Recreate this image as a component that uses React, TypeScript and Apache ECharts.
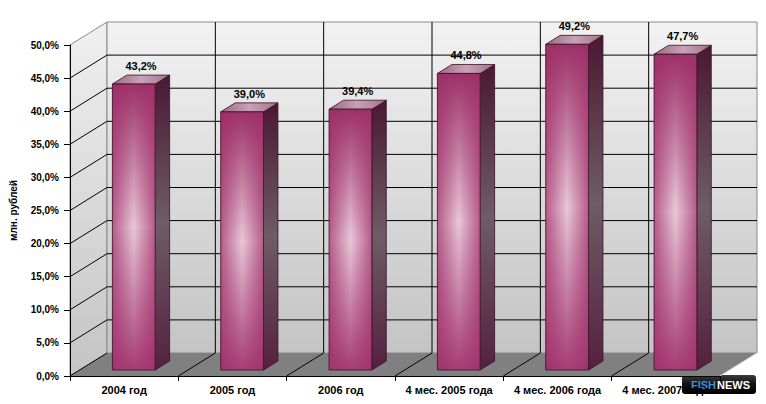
import React, { useEffect, useRef } from "react";
import * as echarts from "echarts";

const categories = [
  "2004 год",
  "2005 год",
  "2006 год",
  "4 мес. 2005 года",
  "4 мес. 2006 года",
  "4 мес. 2007 года",
];
const values = [43.2, 39.0, 39.4, 44.8, 49.2, 47.7];
const yTicks = [0, 5, 10, 15, 20, 25, 30, 35, 40, 45, 50];
const yAxisTitle = "млн. рублей";

const DX = 37;
const DY = -23;
const F1 = 0.26;
const F2 = 0.65;
const BAR_W = 0.395;
const FONT = "'Liberation Sans', Arial, sans-serif";

const fmt = (v: number) => v.toFixed(1).replace(".", ",") + "%";

export default function App() {
  const ref = useRef<HTMLDivElement>(null);
  useEffect(() => {
    if (!ref.current) return;
    const chart = echarts.init(ref.current, undefined, { renderer: "svg" });
    const yMin = yTicks[0];
    const yMax = yTicks[yTicks.length - 1];
    const n = categories.length;

    const sceneRender = (params: any, api: any) => {
      const p0 = api.coord([0, yMin]);
      const bw = api.size([1, 0])[0];
      const left = p0[0] - bw / 2;
      const right = left + bw * n;
      const yBot = p0[1];
      const yTop = api.coord([0, yMax])[1];
      const children: any[] = [];
      children.push({
        type: "polygon",
        shape: { points: [[left, yBot], [left + DX, yBot + DY], [left + DX, yTop + DY], [left, yTop]] },
        style: {
          fill: new echarts.graphic.LinearGradient(0, 0, 0, 1, [
            { offset: 0, color: "#f0f0f0" },
            { offset: 1, color: "#c4c4c4" },
          ]),
          stroke: "#8a8a8a",
          lineWidth: 1,
        },
      });
      children.push({
        type: "rect",
        shape: { x: left + DX, y: yTop + DY, width: right - left, height: yBot - yTop },
        style: {
          fill: new echarts.graphic.LinearGradient(0, 0, 0, 1, [
            { offset: 0, color: "#f2f2f2" },
            { offset: 1, color: "#c4c4c4" },
          ]),
          stroke: "#8a8a8a",
          lineWidth: 1,
        },
      });
      children.push({
        type: "polygon",
        shape: { points: [[left, yBot], [right, yBot], [right + DX, yBot + DY], [left + DX, yBot + DY]] },
        style: { fill: "#808080", stroke: "none" },
      });
      yTicks.forEach((t) => {
        if (t === yMin || t === yMax) return;
        const y = api.coord([0, t])[1];
        children.push({
          type: "line",
          shape: { x1: left, y1: y, x2: left + DX, y2: y + DY },
          style: { stroke: "#000", lineWidth: 1 },
        });
        children.push({
          type: "line",
          shape: { x1: left + DX, y1: y + DY, x2: right + DX, y2: y + DY },
          style: { stroke: "#000", lineWidth: 1 },
        });
      });
      for (let k = 1; k < n; k++) {
        const x = left + k * bw;
        children.push({
          type: "line",
          shape: { x1: x + DX, y1: yTop + DY, x2: x + DX, y2: yBot + DY },
          style: { stroke: "#000", lineWidth: 1 },
        });
        children.push({
          type: "line",
          shape: { x1: x, y1: yBot, x2: x + DX, y2: yBot + DY },
          style: { stroke: "#000", lineWidth: 1 },
        });
      }
      children.push({
        type: "line",
        shape: { x1: left, y1: yBot, x2: left + DX, y2: yBot + DY },
        style: { stroke: "#000", lineWidth: 1 },
      });
      children.push({
        type: "line",
        shape: { x1: right, y1: yBot, x2: right + DX, y2: yBot + DY },
        style: { stroke: "#e0e0e0", lineWidth: 1 },
      });
      return { type: "group", children };
    };

    const barRender = (params: any, api: any) => {
      const i = api.value(0);
      const v = api.value(1);
      const base = api.coord([i, yMin]);
      const top = api.coord([i, v]);
      const bw = api.size([1, 0])[0];
      const w = bw * BAR_W;
      const x0 = base[0] - w / 2 + DX * F1;
      const y0 = top[1] + DY * F1;
      const h = base[1] - top[1];
      const dx = DX * (F2 - F1);
      const dy = DY * (F2 - F1);
      const edge = "#3a0f26";
      return {
        type: "group",
        children: [
          {
            type: "polygon",
            shape: { points: [[x0 + w, y0], [x0 + w + dx, y0 + dy], [x0 + w + dx, y0 + h + dy], [x0 + w, y0 + h]] },
            style: {
              fill: new echarts.graphic.LinearGradient(0, 0, 0, 1, [
                { offset: 0, color: "#4a1832" },
                { offset: 0.5, color: "#6e5c66" },
                { offset: 1, color: "#55203f" },
              ]),
              stroke: edge,
              lineWidth: 0.8,
            },
          },
          {
            type: "polygon",
            shape: { points: [[x0, y0], [x0 + w, y0], [x0 + w + dx, y0 + dy], [x0 + dx, y0 + dy]] },
            style: {
              fill: new echarts.graphic.LinearGradient(0, 0, 1, 0, [
                { offset: 0, color: "#9a6a80" },
                { offset: 0.5, color: "#c8a2b6" },
                { offset: 1, color: "#a07488" },
              ]),
              stroke: edge,
              lineWidth: 0.8,
            },
          },
          {
            type: "rect",
            shape: { x: x0, y: y0, width: w, height: h },
            style: {
              fill: new echarts.graphic.LinearGradient(0, 0, 0, 1, [
                { offset: 0, color: "#9c3268" },
                { offset: 0.5, color: "#e8c8d8" },
                { offset: 1, color: "#a63e76" },
              ]),
            },
          },
          {
            type: "rect",
            shape: { x: x0, y: y0, width: w, height: h },
            style: {
              fill: new echarts.graphic.LinearGradient(0, 0, 1, 0, [
                { offset: 0, color: "rgba(160,45,105,0.7)" },
                { offset: 0.5, color: "rgba(160,45,105,0)" },
                { offset: 1, color: "rgba(160,45,105,0.7)" },
              ]),
              stroke: edge,
              lineWidth: 0.8,
            },
          },
          {
            type: "text",
            style: {
              text: fmt(v),
              x: x0 + w / 2 + dx / 2,
              y: y0 + dy - 9,
              align: "center",
              verticalAlign: "middle",
              fill: "#000",
              font: `bold 11px ${FONT}`,
            },
          },
        ],
      };
    };

    chart.setOption({
      animation: false,
      backgroundColor: "#fff",
      grid: { left: 66, right: 46, top: 45, bottom: 28, containLabel: false },
      xAxis: {
        type: "category",
        data: categories,
        z: 10,
        boundaryGap: true,
        axisLine: { lineStyle: { color: "#000", width: 1 } },
        axisTick: { show: true, length: 5, alignWithLabel: false, lineStyle: { color: "#000" } },
        axisLabel: { color: "#000", fontFamily: FONT, fontWeight: "bold", fontSize: 11, margin: 8, interval: 0 },
        splitLine: { show: false },
      },
      yAxis: {
        type: "value",
        min: yMin,
        max: yMax,
        interval: 5,
        z: 10,
        name: yAxisTitle,
        nameLocation: "middle",
        nameRotate: 90,
        nameGap: 52,
        nameTextStyle: { color: "#000", fontFamily: FONT, fontWeight: "bold", fontSize: 10 },
        axisLine: { show: true, lineStyle: { color: "#000", width: 1 } },
        axisTick: { show: true, length: 6, lineStyle: { color: "#000" } },
        axisLabel: { color: "#000", fontFamily: FONT, fontWeight: "bold", fontSize: 10, margin: 11, formatter: (v: number) => fmt(v) },
        splitLine: { show: false },
      },
      series: [
        {
          type: "custom",
          renderItem: sceneRender,
          data: [[0, 0]],
          encode: { x: 0, y: 1 },
          silent: true,
          z: 1,
        },
        {
          type: "custom",
          renderItem: barRender,
          data: values.map((v, i) => [i, v]),
          encode: { x: 0, y: 1 },
          z: 3,
        },
      ],
      graphic: [
        {
          type: "group",
          z: 100,
          children: [
            {
              type: "rect",
              shape: { x: 682, y: 375, width: 74, height: 19, r: 3 },
              style: {
                fill: new echarts.graphic.LinearGradient(0, 0, 0, 1, [
                  { offset: 0, color: "#3a3a3a" },
                  { offset: 0.5, color: "#111" },
                  { offset: 1, color: "#000" },
                ]),
              },
            },
            {
              type: "text",
              style: { text: "FISH", x: 691, y: 385, align: "left", verticalAlign: "middle", fill: "#3a8fd8", font: `bold 11px ${FONT}` },
            },
            {
              type: "text",
              style: { text: "NEWS", x: 717, y: 385, align: "left", verticalAlign: "middle", fill: "#ffffff", font: `bold 11px ${FONT}` },
            },
          ],
        },
      ],
    });
    return () => chart.dispose();
  }, []);
  return (
    <div
      ref={ref}
      style={{ position: "fixed", left: 0, top: 0, width: 766, height: 404, background: "#fff" }}
    />
  );
}
